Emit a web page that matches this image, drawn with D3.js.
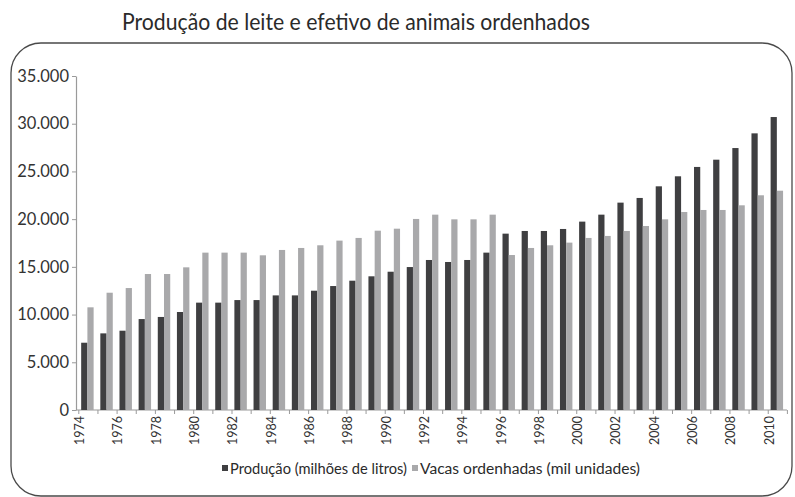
<!DOCTYPE html>
<html>
<head>
<meta charset="utf-8">
<script src="https://cdn.jsdelivr.net/npm/d3@7"></script>
<style>
  html, body { margin: 0; padding: 0; background: #fff; }
  svg { display: block; }
</style>
</head>
<body>
<svg id="chart" width="795" height="497"></svg>
<script>
// Categories: one bar pair per year
const years = ["1974","1975","1976","1977","1978","1979","1980","1981","1982","1983",
  "1984","1985","1986","1987","1988","1989","1990","1991","1992","1993","1994","1995",
  "1996","1997","1998","1999","2000","2001","2002","2003","2004","2005","2006","2007",
  "2008","2009","2010"];

// Milk production (million litres)
const producao = [7050, 8030, 8310, 9530, 9750, 10270, 11250, 11250, 11520, 11520,
  12010, 12010, 12500, 12990, 13550, 14010, 14490, 14980, 15720, 15510, 15720, 16490,
  18480, 18760, 18760, 18970, 19740, 20470, 21730, 22220, 23440, 24490, 25470, 26230,
  27450, 28990, 30700];

// Milked cows (thousand head)
const vacas = [10760, 12290, 12780, 14250, 14250, 14950, 16490, 16490, 16490, 16210,
  16770, 16980, 17260, 17750, 18030, 18790, 19000, 20020, 20470, 19980, 19980, 20470,
  16240, 16980, 17260, 17540, 18030, 18240, 18760, 19280, 19980, 20750, 20960, 20960,
  21450, 22500, 22980];

const seriesNames = ["Produção (milhões de litros)", "Vacas ordenhadas (mil unidades)"];
const seriesColors = ["#3f3f41", "#a9a9ab"];
const yTicks = [0, 5000, 10000, 15000, 20000, 25000, 30000, 35000];

const svg = d3.select("#chart");
const font = "Lato, 'Open Sans', sans-serif";

// Rounded frame around the plot
svg.append("rect")
  .attr("x", 11).attr("y", 43)
  .attr("width", 781).attr("height", 453)
  .attr("rx", 30).attr("ry", 30)
  .attr("fill", "none")
  .attr("stroke", "#4a4a4a")
  .attr("stroke-width", 1.3);

// Title
svg.append("text")
  .attr("x", 122).attr("y", 30)
  .attr("font-family", font)
  .attr("font-size", 22.5)
  .attr("fill", "#2a2a2a")
  .attr("textLength", 468)
  .attr("lengthAdjust", "spacingAndGlyphs")
  .text("Produção de leite e efetivo de animais ordenhados");

const x0 = 78.3, x1 = 786.9;
const yBottom = 410, yTop = 76;

const x = d3.scaleBand().domain(years).range([x0, x1]).padding(0);
const bw = x.bandwidth();
const xs = d3.scaleBand().domain([0, 1]).range([bw * 0.15, bw * 0.8]).padding(0);
const y = d3.scaleLinear().domain([0, 35000]).range([yBottom, yTop]);

const ptBR = d3.formatLocale({ decimal: ",", thousands: ".", grouping: [3], currency: ["R$", ""] });
const fmt = ptBR.format(",d");

// Y axis
const yAxis = svg.append("g")
  .attr("transform", `translate(76,0)`)
  .call(d3.axisLeft(y).tickValues(yTicks).tickFormat(fmt).tickSize(4).tickSizeOuter(0));
yAxis.select(".domain").attr("stroke", "#9a9a9a").attr("stroke-width", 1.2);
yAxis.selectAll(".tick line").attr("stroke", "#9a9a9a");
yAxis.selectAll(".tick text")
  .attr("font-family", font)
  .attr("font-size", 16.5)
  .attr("fill", "#333")
  .attr("x", -7);

// X axis: ticks on band boundaries, labels on even years
const bounds = years.concat(["fim"]);
const xb = d3.scalePoint().domain(bounds).range([x0, x1]);
const xAxis = svg.append("g")
  .attr("transform", `translate(0,${yBottom})`)
  .call(d3.axisBottom(xb)
    .tickFormat(d => (d !== "fim" && (+d) % 2 === 0) ? d : "")
    .tickSize(4).tickSizeOuter(0));
xAxis.select(".domain").attr("stroke", "#9a9a9a").attr("stroke-width", 1.2)
  .attr("d", `M76,0H${x1}`);
xAxis.selectAll(".tick line").attr("stroke", "#9a9a9a");
xAxis.selectAll(".tick text")
  .attr("font-family", font)
  .attr("font-size", 12.5)
  .attr("fill", "#333")
  .attr("transform", "rotate(-90)")
  .attr("text-anchor", "end")
  .attr("x", -6)
  .attr("y", 1)
  .attr("dy", "0.35em");

// Bars
const data = years.map((yr, i) => ({ yr, vals: [producao[i], vacas[i]] }));
const groups = svg.append("g").selectAll("g")
  .data(data)
  .join("g")
  .attr("transform", d => `translate(${x(d.yr)},0)`);
groups.selectAll("rect")
  .data(d => d.vals.map((v, k) => ({ v, k })))
  .join("rect")
  .attr("x", d => xs(d.k))
  .attr("width", xs.bandwidth())
  .attr("y", d => y(d.v))
  .attr("height", d => y(0) - y(d.v))
  .attr("fill", d => seriesColors[d.k]);

// Legend
const legendItems = [
  { name: seriesNames[0], color: seriesColors[0], x: 222, w: 177 },
  { name: seriesNames[1], color: seriesColors[1], x: 412, w: 220 }
];
const lg = svg.append("g").selectAll("g")
  .data(legendItems)
  .join("g")
  .attr("transform", d => `translate(${d.x},0)`);
lg.append("rect")
  .attr("x", 0).attr("y", 465)
  .attr("width", 6).attr("height", 6)
  .attr("fill", d => d.color);
lg.append("text")
  .attr("x", 8).attr("y", 474)
  .attr("font-family", font)
  .attr("font-size", 14.5)
  .attr("fill", "#2a2a2a")
  .attr("textLength", d => d.w)
  .attr("lengthAdjust", "spacingAndGlyphs")
  .text(d => d.name);
</script>
</body>
</html>
